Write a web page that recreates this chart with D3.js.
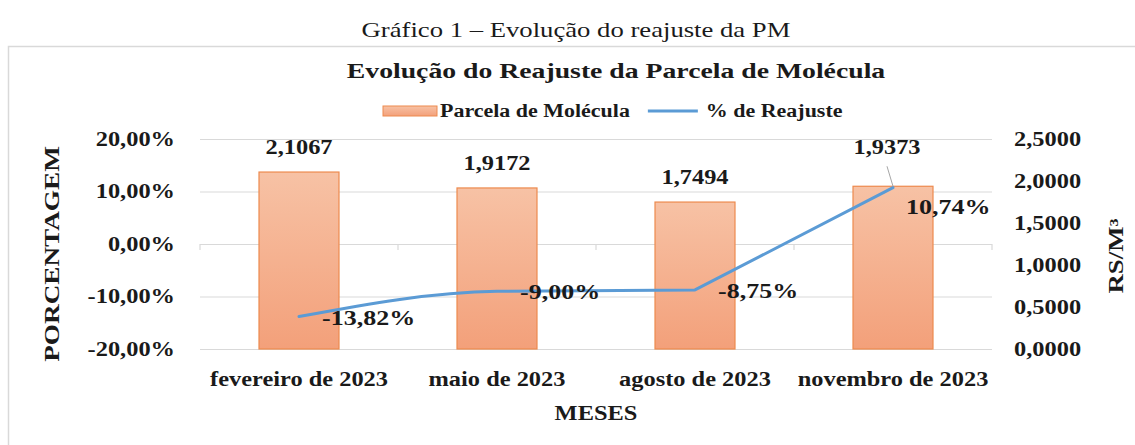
<!DOCTYPE html>
<html>
<head>
<meta charset="utf-8">
<script src="https://cdn.jsdelivr.net/npm/d3@7"></script>
<style>
  body { margin: 0; background: #fff; }
  svg text { font-family: "Liberation Serif", "Times New Roman", serif; fill: #1a1a1a; }
</style>
</head>
<body>
<svg id="chart" width="1135" height="445"></svg>
<script>
// data
var months = ["fevereiro de 2023", "maio de 2023", "agosto de 2023", "novembro de 2023"];
var parcela = [2.1067, 1.9172, 1.7494, 1.9373];
var reajuste = [-0.1382, -0.0900, -0.0875, 0.1074];
var pctTicks = [-0.2, -0.1, 0, 0.1, 0.2];
var rsTicks = [0, 0.5, 1, 1.5, 2, 2.5];

var br = d3.formatLocale({decimal: ",", thousands: ".", grouping: [3], currency: ["R$", ""], minus: "-"});
var fmtPct = br.format(".2%"),
    fmtRs = br.format(".4f");

var svg = d3.select("svg#chart");
var margin = {top: 139, right: 143, bottom: 96, left: 200},
    width = +svg.attr("width") - margin.left - margin.right,
    height = +svg.attr("height") - margin.top - margin.bottom;
var STRETCH = 1.22;   // the source picture is a little wider than tall

var defs = svg.append("defs");
var grad = defs.append("linearGradient").attr("id", "barFill")
    .attr("x1", 0).attr("y1", 0).attr("x2", 0).attr("y2", 1);
grad.append("stop").attr("offset", "0%").attr("stop-color", "#f7c2a5");
grad.append("stop").attr("offset", "100%").attr("stop-color", "#f3a07a");

// outer frame + caption
svg.append("rect")
    .attr("x", 8.5).attr("y", 46.5).attr("width", 1200).attr("height", 500)
    .attr("fill", "none").attr("stroke", "#d9d9d9").attr("stroke-width", 1.5);

svg.append("text")
    .attr("x", 576).attr("y", 30)
    .attr("text-anchor", "middle").attr("dominant-baseline", "central")
    .attr("data-k", 1.27)
    .style("font-size", "21px")
    .text("Gráfico 1 – Evolução do reajuste da PM");

svg.append("text")
    .attr("x", 616).attr("y", 71)
    .attr("text-anchor", "middle").attr("dominant-baseline", "central")
    .attr("data-k", 1.32)
    .style("font-size", "21px").style("font-weight", "bold")
    .text("Evolução do Reajuste da Parcela de Molécula");

var g = svg.append("g").attr("transform", "translate(" + margin.left + "," + margin.top + ")");

var x = d3.scaleBand().domain(months).range([0, width]).paddingInner(0.596).paddingOuter(0.298);
var y = d3.scaleLinear().domain([-0.2, 0.2]).range([height, 0]);
var y2 = d3.scaleLinear().domain([0, 2.5]).range([height, 0]);

// gridlines on the % axis
g.append("g")
    .attr("class", "grid")
    .call(d3.axisLeft(y).tickValues(pctTicks).tickSize(-width).tickFormat(""))
    .call(function (s) {
        s.select(".domain").remove();
        s.selectAll("line").attr("stroke", "#d9d9d9").attr("stroke-width", 1.2);
    });

// small category ticks on the 0% line
var bounds = d3.range(months.length + 1).map(function (i) { return i * x.step(); });
g.append("g").selectAll("line")
    .data(bounds)
    .enter().append("line")
    .attr("x1", function (d) { return d; }).attr("x2", function (d) { return d; })
    .attr("y1", y(0)).attr("y2", y(0) + 6)
    .attr("stroke", "#d9d9d9").attr("stroke-width", 1.2);

// bars (right axis)
g.append("g").selectAll("rect")
    .data(parcela)
    .enter().append("rect")
    .attr("x", function (d, i) { return x(months[i]); })
    .attr("y", function (d) { return y2(d); })
    .attr("width", x.bandwidth())
    .attr("height", function (d) { return height - y2(d); })
    .attr("fill", "url(#barFill)")
    .attr("stroke", "#ed8a4e").attr("stroke-width", 1.2);

// line (left axis) -- smooth on the first stretch, straight on the last one
var pts = reajuste.map(function (d, i) { return {x: x(months[i]) + x.bandwidth() / 2, y: y(d)}; });
var smooth = d3.line().x(function (d) { return d.x; }).y(function (d) { return d.y; }).curve(d3.curveMonotoneX);
var straight = d3.line().x(function (d) { return d.x; }).y(function (d) { return d.y; });
g.append("path")
    .attr("fill", "none").attr("stroke", "#5b9bd5").attr("stroke-width", 3)
    .attr("stroke-linecap", "round").attr("stroke-linejoin", "round")
    .attr("d", smooth(pts.slice(0, 3)) + straight(pts.slice(2)).replace("M", "L"));

// bar value labels; last one is pulled up with a leader line
var barNudge = {3: {dx: -6, dy: -14}};
g.append("g").selectAll("text")
    .data(parcela)
    .enter().append("text")
    .attr("x", function (d, i) { return x(months[i]) + x.bandwidth() / 2 + (barNudge[i] ? barNudge[i].dx : 0); })
    .attr("y", function (d, i) { return y2(d) - 25 + (barNudge[i] ? barNudge[i].dy : 0); })
    .attr("text-anchor", "middle").attr("dominant-baseline", "central")
    .style("font-size", "20px").style("font-weight", "bold")
    .text(function (d) { return fmtRs(d); });
g.append("line")
    .attr("x1", x(months[3]) + x.bandwidth() / 2 - 6).attr("y1", y2(parcela[3]) - 20)
    .attr("x2", x(months[3]) + x.bandwidth() / 2).attr("y2", y2(parcela[3]))
    .attr("stroke", "#a6a6a6").attr("stroke-width", 1);

// line value labels, to the right of each point
var lineNudge = {3: {dx: -10, dy: 18}};
g.append("g").selectAll("text")
    .data(reajuste)
    .enter().append("text")
    .attr("x", function (d, i) { return pts[i].x + 23 + (lineNudge[i] ? lineNudge[i].dx : 0); })
    .attr("y", function (d, i) { return pts[i].y + 1 + (lineNudge[i] ? lineNudge[i].dy : 0); })
    .attr("dominant-baseline", "central")
    .attr("data-k", 1.3)
    .style("font-size", "20px").style("font-weight", "bold")
    .text(function (d) { return fmtPct(d); });

// axes
function styleAxis(s) {
    s.select(".domain").remove();
    s.selectAll("line").remove();
    s.selectAll("text")
        .attr("fill", "#1a1a1a")
        .style("font-family", "'Liberation Serif', 'Times New Roman', serif")
        .style("font-size", "20px").style("font-weight", "bold");
}
g.append("g")
    .call(d3.axisLeft(y).tickValues(pctTicks).tickSize(0).tickPadding(25).tickFormat(fmtPct))
    .call(styleAxis);
g.append("g")
    .attr("transform", "translate(" + width + ",0)")
    .call(d3.axisRight(y2).tickValues(rsTicks).tickSize(0).tickPadding(22).tickFormat(fmtRs))
    .call(styleAxis);
g.append("g")
    .attr("transform", "translate(0," + height + ")")
    .call(d3.axisBottom(x).tickSize(0).tickPadding(23))
    .call(styleAxis);

// axis titles
g.append("text")
    .attr("x", width / 2).attr("y", height + 64)
    .attr("text-anchor", "middle").attr("dominant-baseline", "central")
    .style("font-size", "20px").style("font-weight", "bold")
    .text("MESES");
g.append("text")
    .attr("transform", "translate(" + (52 - margin.left) + "," + (254 - margin.top) + ") rotate(-90)")
    .attr("text-anchor", "middle").attr("dominant-baseline", "central")
    .attr("data-k", 1.36)
    .style("font-size", "20px").style("font-weight", "bold")
    .text("PORCENTAGEM");
g.append("text")
    .attr("transform", "translate(" + (1116 - margin.left) + "," + (256 - margin.top) + ") rotate(-90)")
    .attr("text-anchor", "middle").attr("dominant-baseline", "central")
    .attr("data-k", 1.34)
    .style("font-size", "20px").style("font-weight", "bold")
    .text("RS/M³");

// legend
var leg = svg.append("g").attr("transform", "translate(383,111)");
leg.append("rect").attr("x", 0).attr("y", -5).attr("width", 54).attr("height", 10)
    .attr("fill", "url(#barFill)").attr("stroke", "#ed8a4e").attr("stroke-width", 1);
var t1 = leg.append("text").attr("x", 57).attr("y", 0).attr("dominant-baseline", "central")
    .style("font-size", "18px").style("font-weight", "bold").text("Parcela de Molécula");
var t2 = leg.append("text").attr("dominant-baseline", "central")
    .style("font-size", "18px").style("font-weight", "bold").text("% de Reajuste");

// widen all text to the picture's proportions
svg.selectAll("text").each(function () {
    var el = d3.select(this),
        k = +(el.attr("data-k") || STRETCH);
    el.attr("textLength", this.getComputedTextLength() * k).attr("lengthAdjust", "spacingAndGlyphs");
});

var w1 = t1.node().textLength.baseVal.value;
var lx = 57 + w1 + 18;
leg.append("line").attr("x1", lx).attr("x2", lx + 50).attr("y1", 0).attr("y2", 0)
    .attr("stroke", "#5b9bd5").attr("stroke-width", 3);
t2.attr("x", lx + 58).attr("y", 0);
</script>
</body>
</html>
